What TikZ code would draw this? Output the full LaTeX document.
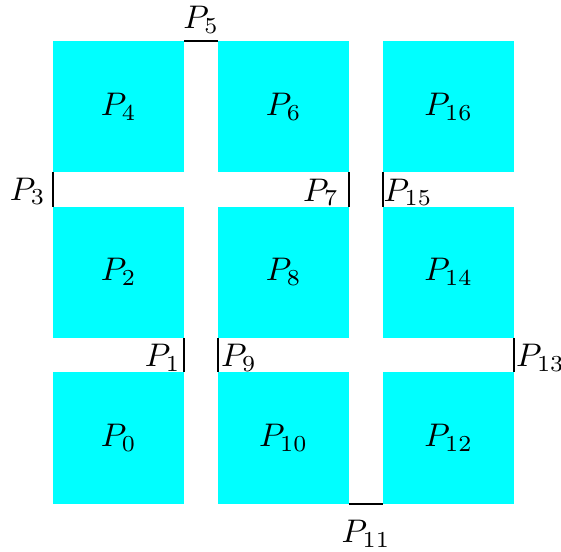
\documentclass[tikz,border=0pt]{standalone}
\usepackage{fix-cm}
\usepackage{tikz}
\usetikzlibrary{calc}
\definecolor{aqua}{RGB}{0,255,255}
\begin{document}
\begin{tikzpicture}[x=0.3425pt,y=-0.3425pt,
  every node/.style={font=\fontsize{11.2pt}{13.5pt}\selectfont},
  sq/.style={fill=aqua,draw=none,minimum size=44.97pt,inner sep=0pt,outer sep=0pt},
  lab/.style={inner sep=0pt},
  wall/.style={draw=black,line width=0.68pt}]
\useasboundingbox (0,0) rectangle (561,551);
% squares
\node[sq] (P4)  at (118.5,106.7) {$P_4$};
\node[sq] (P6)  at (283.5,106.7) {$P_6$};
\node[sq] (P16) at (448.5,106.7) {$P_{16}$};
\node[sq] (P2)  at (118.5,272.2) {$P_2$};
\node[sq] (P8)  at (283.5,272.2) {$P_8$};
\node[sq] (P14) at (448.5,272.2) {$P_{14}$};
\node[sq] (P0)  at (118.5,437.9) {$P_0$};
\node[sq] (P10) at (283.5,437.9) {$P_{10}$};
\node[sq] (P12) at (448.5,437.9) {$P_{12}$};
% walls
\draw[wall] (P4.north east) -- (P6.north west);
\draw[wall] (P4.south west) -- (P2.north west);
\draw[wall] (P6.south east) -- (P8.north east);
\draw[wall] (P16.south west) -- (P14.north west);
\draw[wall] (P2.south east) -- (P0.north east);
\draw[wall] (P8.south west) -- (P10.north west);
\draw[wall] (P14.south east) -- (P12.north east);
\draw[wall] (P10.south east) -- (P12.south west);
% labels
\coordinate (m5) at ($(P4.north east)!0.5!(P6.north west)$);
\coordinate (m11) at ($(P10.south east)!0.5!(P12.south west)$);
\node[lab,anchor=south,yshift=2.26pt] (P5) at (m5) {$P_5$};
\node[lab,anchor=north,yshift=-5.48pt] (P11) at (m11) {$P_{11}$};
\node[lab,anchor=south east,xshift=-2.4pt,yshift=0.34pt] (P3) at (P2.north west) {$P_3$};
\node[lab,anchor=south east,xshift=-3.4pt] (P7) at (P8.north east) {$P_7$};
\node[lab,anchor=south west,xshift=0.1pt] (P15) at (P14.north west) {$P_{15}$};
\node[lab,anchor=south east,xshift=-1.1pt] (P1) at (P0.north east) {$P_1$};
\node[lab,anchor=south west,xshift=0.9pt] (P9) at (P10.north west) {$P_9$};
\node[lab,anchor=south west,xshift=0.5pt] (P13) at (P12.north east) {$P_{13}$};
\end{tikzpicture}
\end{document}
